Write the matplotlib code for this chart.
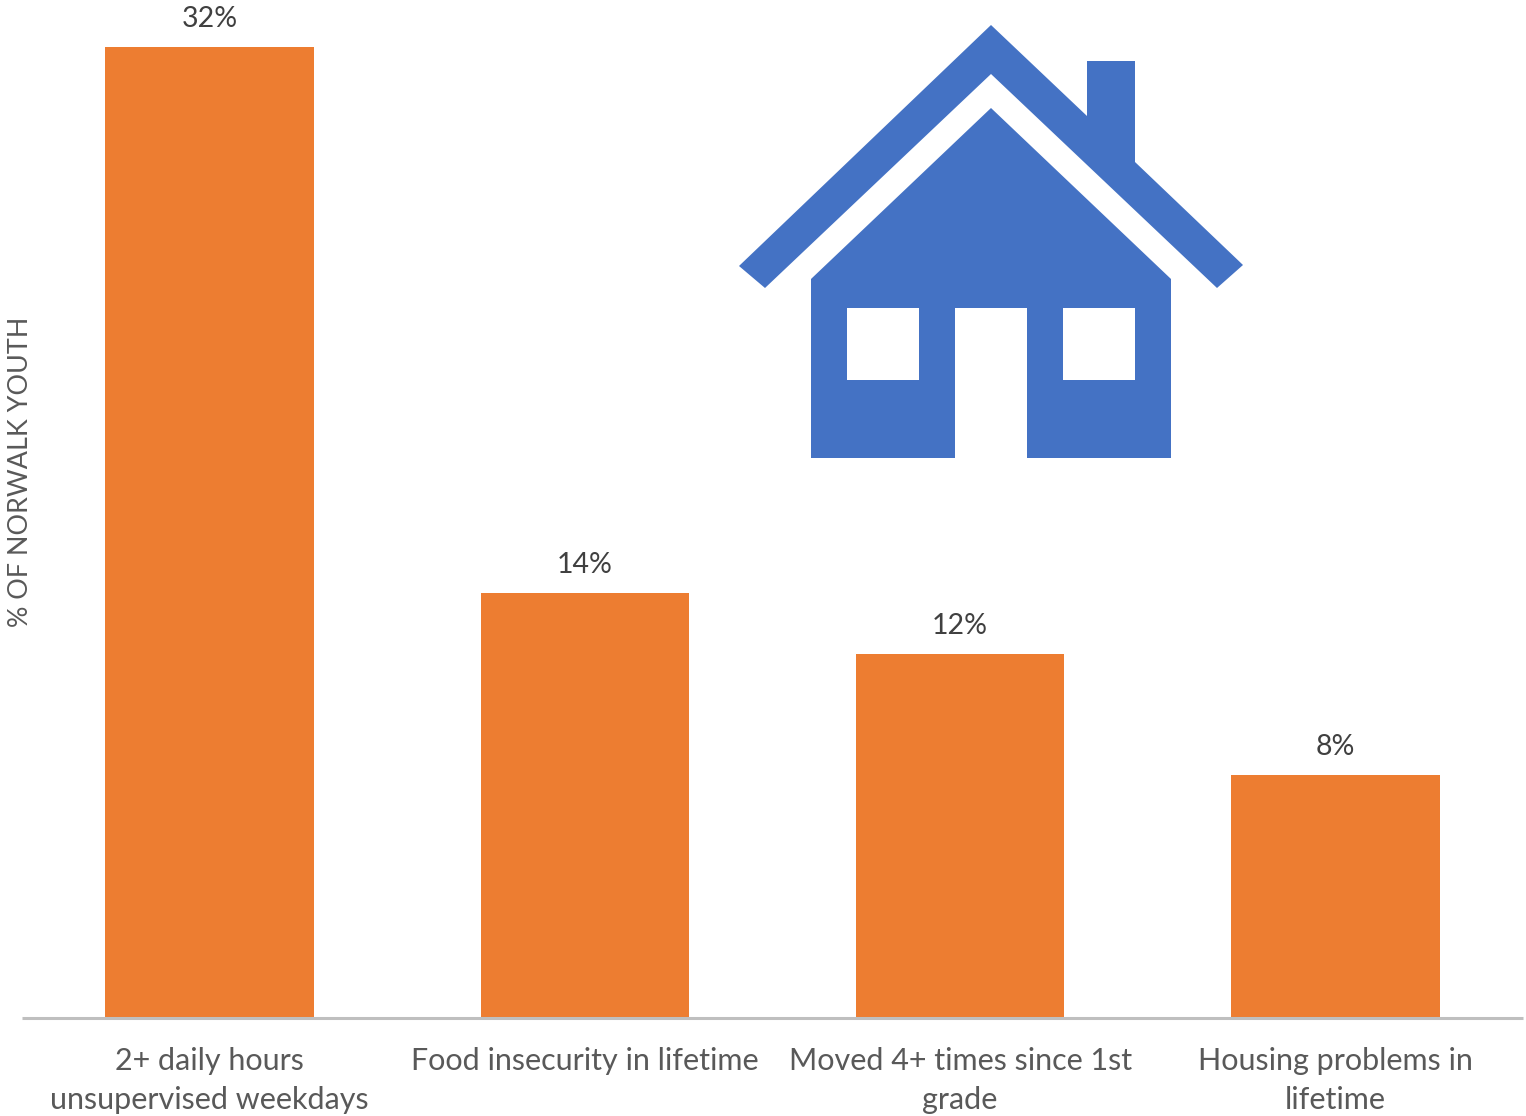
#!/usr/bin/env python3
import matplotlib
matplotlib.use('Agg')
import matplotlib.pyplot as plt
from matplotlib.patches import Polygon, Rectangle

plt.rcParams['font.family'] = ['Lato', 'DejaVu Sans']

categories = ['2+ daily hours\nunsupervised weekdays', 'Food insecurity in lifetime',
              'Moved 4+ times since 1st\ngrade', 'Housing problems in\nlifetime']
values = [32, 14, 12, 8]

W, H = 1526, 1116
fig = plt.figure(figsize=(W/100, H/100), dpi=100)

# plot area runs from the baseline up to the top edge of the figure
ax = fig.add_axes([22/W, (H-1018)/H, 1501/W, 1018/H])
ax.patch.set_alpha(0)
bars = ax.bar(range(4), values, width=0.555, color='#ED7D31')
ax.set_xlim(-0.5, 3.5)
ax.set_ylim(0, 33.55)
ax.set_yticks([])
ax.set_xticks(range(4))
ax.set_xticklabels(categories, fontsize=22, color='#595959', linespacing=1.46)
ax.tick_params(axis='x', length=0, pad=21)
for s in ['top', 'left', 'right']:
    ax.spines[s].set_visible(False)
ax.spines['bottom'].set_color('#BFBFBF')
ax.spines['bottom'].set_linewidth(2.2)
ax.spines['bottom'].set_capstyle('butt')

for i, v in enumerate(values):
    ax.annotate(f'{v}%', (i, v), xytext=(0, 15), textcoords='offset pixels',
                ha='center', va='bottom', fontsize=20.5, color='#404040',
                annotation_clip=False)

fig.text(21/W, 1-472/H, '% OF NORWALK YOUTH', rotation=90, ha='center', va='center',
         fontsize=19.4, color='#595959')

# house icon, in pixel coordinates
icon = fig.add_axes([0, 0, 1, 1])
icon.set_xlim(0, W)
icon.set_ylim(H, 0)
icon.axis('off')
blue = '#4472C4'
roof = [(991, 25), (1087, 116), (1087, 61), (1135, 61), (1135, 162), (1243, 265),
        (1217, 288), (991, 74), (765, 288), (739, 266)]
body = [(991, 108), (1171, 279), (1171, 458), (1027, 458), (1027, 308), (955, 308),
        (955, 458), (811, 458), (811, 279)]
icon.add_patch(Polygon(roof, closed=True, fc=blue, ec='none'))
icon.add_patch(Polygon(body, closed=True, fc=blue, ec='none'))
icon.add_patch(Rectangle((847, 308), 72, 72, fc='white', ec='none'))
icon.add_patch(Rectangle((1063, 308), 72, 72, fc='white', ec='none'))

fig.savefig('out.png', dpi=100)
